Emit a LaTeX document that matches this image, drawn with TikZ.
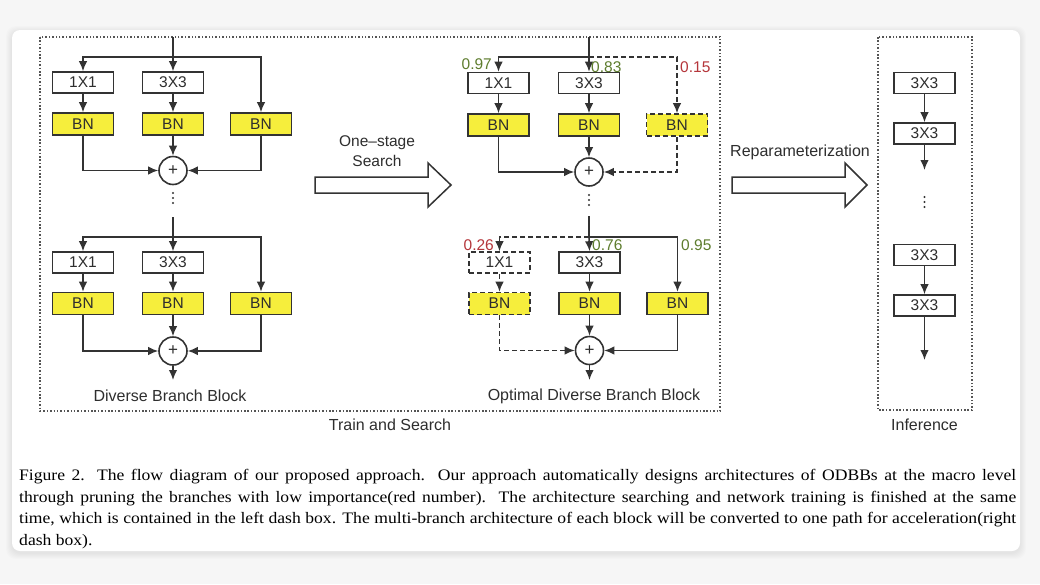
\documentclass[tikz,border=0pt]{standalone}
\usepackage{fontspec}
\setmainfont{Liberation Sans}
\newfontfamily\capfont[FakeStretch=1.1]{Liberation Serif}
\usetikzlibrary{arrows.meta,calc}
\definecolor{linec}{HTML}{333333}
\definecolor{textc}{HTML}{2E2E2E}
\definecolor{bny}{HTML}{F6EE3C}
\definecolor{numg}{HTML}{5E7D2E}
\definecolor{numr}{HTML}{B5363B}
\definecolor{dotc}{HTML}{555555}
\definecolor{bgc}{HTML}{F6F6F6}
\tikzset{
  conv/.style={draw=linec, line width=1.6pt, fill=white, minimum width=61pt, minimum height=21pt, inner sep=0pt, text=textc, font=\fontsize{15.5}{15.5}\selectfont},
  bnbox/.style={conv, fill=bny, minimum height=22pt},
  ghost/.style={dash pattern=on 5pt off 3pt},
  sumnode/.style={circle, draw=linec, line width=1.6pt, fill=white, minimum size=28pt, inner sep=0pt, font=\fontsize{17}{17}\selectfont, text=textc},
  arr/.style={draw=linec, line width=1.6pt, -{Latex[length=10pt,width=8.5pt]}},
  wire/.style={draw=linec, line width=1.6pt},
  lbl/.style={text=textc, font=\fontsize{16}{16}\selectfont, inner sep=0pt},
  num/.style={font=\fontsize{15.5}{15.5}\selectfont, inner sep=0pt},
  dotbox/.style={draw=dotc, line width=1.6pt, dash pattern=on 1.5pt off 1.9pt},
  hollow/.style={draw=linec, line width=1.5pt, fill=white, line join=miter},
  capline/.style={anchor=base west, inner sep=0pt, text=black, font=\capfont\fontsize{16}{16}\selectfont},
  vdot/.style={fill=linec}
}
\begin{document}
\begin{tikzpicture}[x=1pt,y=-1pt]
\useasboundingbox (0,0) rectangle (1040,584);
% background and card
\fill[bgc] (0,0) rectangle (1040,584);
\foreach \i in {1,...,6}{
  \fill[black, opacity=0.012, rounded corners=10pt] (12-\i,30-\i+2) rectangle (1020+\i,551+\i+2);
}
\fill[white, rounded corners=8pt] (12,30) rectangle (1020,551);

% dotted boxes
\draw[dotbox] (40,37) rectangle (720,411);
\draw[dotbox] (878,37) rectangle (972,410);
\node[lbl] (trainlbl) at (390,425) {Train and Search};
\node[lbl] (inflbl) at (924.5,425) {Inference};

% ===== top-left block =====
\coordinate (tlin) at (173,37);
\coordinate (tlsplit) at (173,57);
\node[conv] (tl1) at (83,82.5) {1X1};
\node[conv] (tl3) at (173,82.5) {3X3};
\node[bnbox] (tb1) at (83,124) {BN};
\node[bnbox] (tb2) at (173,124) {BN};
\node[bnbox] (tb3) at (261,124) {BN};
\node[sumnode] (tp) at (173,170.5) {+};
\draw[wire] (tlin) -- (tlsplit);
\draw[arr] (tlsplit) -| (tl1.north);
\draw[arr] (tlsplit) -- (tl3.north);
\draw[arr] (tlsplit) -| (tb3.north);
\draw[arr] (tl1) -- (tb1);
\draw[arr] (tl3) -- (tb2);
\draw[arr] (tb1.south) |- (tp.west);
\draw[arr] (tb2) -- (tp);
\draw[arr] (tb3.south) |- (tp.east);
\foreach \yy in {193,198,203}{\fill[vdot] (173,\yy) circle (1.1pt);}

% ===== bottom-left block =====
\coordinate (blin) at (173,217);
\coordinate (blsplit) at (173,237);
\node[conv] (bl1) at (83,262.5) {1X1};
\node[conv] (bl3) at (173,262.5) {3X3};
\node[bnbox] (bb1) at (83,303.5) {BN};
\node[bnbox] (bb2) at (173,303.5) {BN};
\node[bnbox] (bb3) at (261,303.5) {BN};
\node[sumnode] (bp) at (173,351) {+};
\coordinate (blout) at (173,380);
\draw[wire] (blin) -- (blsplit);
\draw[arr] (blsplit) -| (bl1.north);
\draw[arr] (blsplit) -- (bl3.north);
\draw[arr] (blsplit) -| (bb3.north);
\draw[arr] (bl1) -- (bb1);
\draw[arr] (bl3) -- (bb2);
\draw[arr] (bb1.south) |- (bp.west);
\draw[arr] (bb2) -- (bp);
\draw[arr] (bb3.south) |- (bp.east);
\draw[arr] (bp) -- (blout);
\node[lbl] (dbblbl) at (170,396) {Diverse Branch Block};

% ===== one-stage search arrow =====
\draw[hollow] (315,177) -- (428,177) -- (428,163) -- (451,185) -- (428,207) -- (428,193) -- (315,193) -- cycle;
\node[lbl, font=\fontsize{15.5}{15.5}\selectfont] (oss1) at (377,143) {One--stage};
\node[lbl, font=\fontsize{15.5}{15.5}\selectfont] (oss2) at (377,161) {Search};

% ===== top-right block =====
\coordinate (trin) at (589,37);
\coordinate (trsplit) at (589,57);
\node[conv] (tr1) at (498.5,83) {1X1};
\node[conv] (tr3) at (589,83) {3X3};
\node[bnbox] (trb1) at (498.5,125) {BN};
\node[bnbox] (trb2) at (589,125) {BN};
\node[bnbox, ghost] (trb3) at (677,125) {BN};
\node[sumnode] (trp) at (589,172) {+};
\draw[wire] (trin) -- (trsplit);
\draw[arr] (trsplit) -| (tr1.north);
\draw[arr] (trsplit) -- (tr3.north);
\draw[arr, ghost] (trsplit) -| (trb3.north);
\draw[arr] (tr1) -- (trb1);
\draw[arr] (tr3) -- (trb2);
\draw[arr] (trb1.south) |- (trp.west);
\draw[arr] (trb2) -- (trp);
\draw[arr, ghost] (trb3.south) |- (trp.east);
\node[num, text=numg, anchor=east] (n097) at (492,64) {0.97};
\node[num, text=numg, anchor=west] (n083) at (591,67) {0.83};
\node[num, text=numr, anchor=west] (n015) at (680,67) {0.15};
\foreach \yy in {195,200,205}{\fill[vdot] (589,\yy) circle (1.1pt);}

% ===== bottom-right block =====
\coordinate (brin) at (589,216);
\coordinate (brsplit) at (589,237);
\node[conv, ghost] (br1) at (499.5,262.5) {1X1};
\node[conv] (br3) at (589.5,262.5) {3X3};
\node[bnbox, ghost] (brb1) at (499.5,303.5) {BN};
\node[bnbox] (brb2) at (589.5,303.5) {BN};
\node[bnbox] (brb3) at (677.5,303.5) {BN};
\node[sumnode] (brp) at (589.5,350.5) {+};
\coordinate (brout) at (589.5,380);
\draw[wire] (brin) -- (brsplit);
\draw[arr, ghost] (brsplit) -| (br1.north);
\draw[arr] (brsplit) -- (br3.north);
\draw[arr] (brsplit) -| (brb3.north);
\draw[arr, ghost] (br1) -- (brb1);
\draw[arr] (br3) -- (brb2);
\draw[arr, ghost] (brb1.south) |- (brp.west);
\draw[arr] (brb2) -- (brp);
\draw[arr] (brb3.south) |- (brp.east);
\draw[arr] (brp) -- (brout);
\node[num, text=numr, anchor=east] (n026) at (494,245) {0.26};
\node[num, text=numg, anchor=west] (n076) at (592,245) {0.76};
\node[num, text=numg, anchor=west] (n095) at (681,245) {0.95};
\node[lbl] (odbblbl) at (594,396) {Optimal Diverse Branch Block};

% ===== reparameterization arrow =====
\draw[hollow] (732,177) -- (845,177) -- (845,163) -- (867,185) -- (845,207) -- (845,193) -- (732,193) -- cycle;
\node[lbl] (replbl) at (800,152) {Reparameterization};

% ===== inference column =====
\node[conv] (i1) at (924.5,83) {3X3};
\node[conv] (i2) at (924.5,133.5) {3X3};
\coordinate (i2out) at (924.5,170);
\node[conv] (i3) at (924.5,255) {3X3};
\node[conv] (i4) at (924.5,305.5) {3X3};
\coordinate (i4out) at (924.5,360);
\draw[arr] (i1) -- (i2);
\draw[arr] (i2) -- (i2out);
\draw[arr] (i3) -- (i4);
\draw[arr] (i4) -- (i4out);
\foreach \yy in {197,202,207}{\fill[vdot] (924.5,\yy) circle (1.1pt);}

% ===== caption =====
\node[capline] (cap1) at (19,480) {\makebox[997pt][s]{Figure 2. The flow diagram of our proposed approach.\ \ Our approach automatically designs architectures of ODBBs at the macro level}};
\node[capline] (cap2) at (19,502) {\makebox[997pt][s]{through pruning the branches with low importance(red number).\ \ The architecture searching and network training is finished at the same}};
\node[capline] (cap3) at (19,523.5) {\makebox[997pt][s]{time, which is contained in the left dash box. The multi-branch architecture of each block will be converted to one path for acceleration(right}};
\node[capline] (cap4) at (19,545) {dash box).};
\end{tikzpicture}
\end{document}
